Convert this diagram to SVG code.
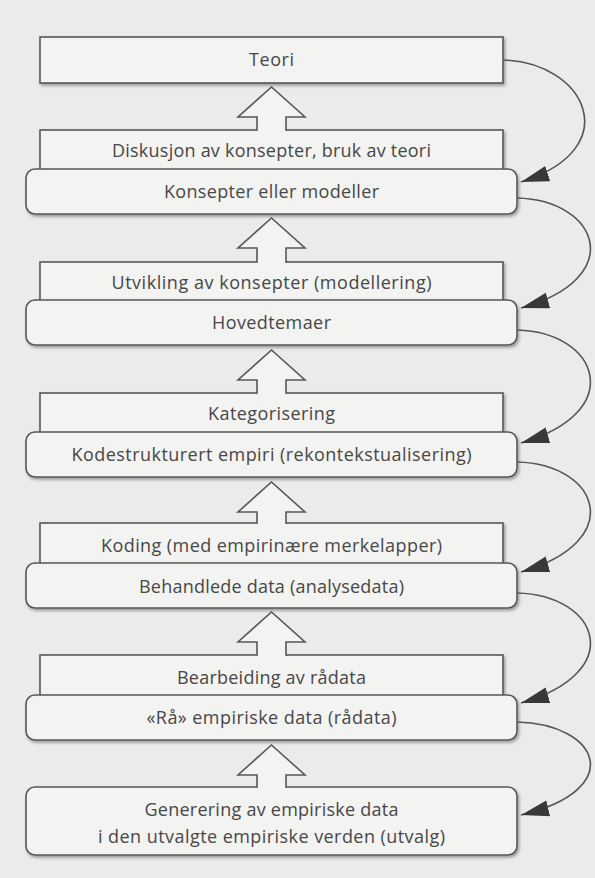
<svg xmlns="http://www.w3.org/2000/svg" width="595" height="878" viewBox="0 0 595 878">
<style>
.bg{fill:#ebebe9}
.box{fill:#f3f3f1;stroke:#575757;stroke-width:1.6;filter:url(#sh)}
.t{font-family:"Open Sans",Lato,"Liberation Sans",sans-serif;font-size:18px;fill:#474747;text-anchor:middle}
.upf{fill:#f3f3f1;stroke:none}
.ups{fill:none;stroke:#575757;stroke-width:1.6;stroke-linejoin:miter}
.cv{fill:none;stroke:#555;stroke-width:1.6;marker-end:url(#ah)}
</style>
<defs>
<filter id="sh" x="-5%" y="-20%" width="110%" height="150%">
<feDropShadow dx="1.5" dy="2" stdDeviation="1.4" flood-color="#000" flood-opacity="0.35"/>
</filter>
<marker id="ah" markerUnits="userSpaceOnUse" markerWidth="30" markerHeight="18" refX="28" refY="8" orient="auto">
<path d="M0,0 L28,8 L0,16 Z" fill="#383838"/>
</marker>
</defs>
<rect class="bg" x="0" y="0" width="595" height="878"/>

<g id="teori"><rect class="box" x="40" y="37" width="463" height="46"/><text class="t" x="271.5" y="66" textLength="45">Teori</text></g>
<g id="diskusjon"><rect class="box" x="40" y="130" width="463" height="45"/><text class="t" x="271.5" y="157" textLength="319">Diskusjon av konsepter, bruk av teori</text></g>
<g id="konsepter"><rect class="box" x="26" y="169" width="491" height="45" rx="9"/><text class="t" x="271.5" y="198" textLength="215">Konsepter eller modeller</text></g>
<g id="utvikling"><rect class="box" x="40" y="262" width="463" height="44"/><text class="t" x="271.5" y="289" textLength="320">Utvikling av konsepter (modellering)</text></g>
<g id="hovedtemaer"><rect class="box" x="26" y="300" width="491" height="45" rx="9"/><text class="t" x="271.5" y="329" textLength="119">Hovedtemaer</text></g>
<g id="kategorisering"><rect class="box" x="40" y="393" width="463" height="45"/><text class="t" x="271.5" y="420" textLength="127">Kategorisering</text></g>
<g id="kodestrukturert"><rect class="box" x="26" y="432" width="491" height="45" rx="9"/><text class="t" x="271.5" y="461" textLength="400">Kodestrukturert empiri (rekontekstualisering)</text></g>
<g id="koding"><rect class="box" x="40" y="523" width="463" height="46"/><text class="t" x="271.5" y="552" textLength="341">Koding (med empirinære merkelapper)</text></g>
<g id="behandlede"><rect class="box" x="26" y="563" width="491" height="45" rx="9"/><text class="t" x="271.5" y="593" textLength="265">Behandlede data (analysedata)</text></g>
<g id="bearbeiding"><rect class="box" x="40" y="655" width="463" height="46"/><text class="t" x="271.5" y="684" textLength="189">Bearbeiding av rådata</text></g>
<g id="raa"><rect class="box" x="26" y="695" width="491" height="45" rx="9"/><text class="t" x="271.5" y="724" textLength="250">«Rå» empiriske data (rådata)</text></g>
<g id="generering"><rect class="box" x="26" y="787" width="491" height="68" rx="9"/><text class="t" x="271.5" y="816" textLength="254">Generering av empiriske data</text><text class="t" x="271.5" y="843" textLength="347">i den utvalgte empiriske verden (utvalg)</text></g>

<g id="connectors">
<g id="up1"><polygon class="upf" points="271.5,87 305,117 286,117 286,131.6 257,131.6 257,117 238,117"/><polyline class="ups" points="257,130.8 257,117 238,117 271.5,87 305,117 286,117 286,130.8"/></g>
<g id="up2"><polygon class="upf" points="271.5,218 305,248 286,248 286,263.6 257,263.6 257,248 238,248"/><polyline class="ups" points="257,262.8 257,248 238,248 271.5,218 305,248 286,248 286,262.8"/></g>
<g id="up3"><polygon class="upf" points="271.5,350 305,380 286,380 286,394.6 257,394.6 257,380 238,380"/><polyline class="ups" points="257,393.8 257,380 238,380 271.5,350 305,380 286,380 286,393.8"/></g>
<g id="up4"><polygon class="upf" points="271.5,482 305,512 286,512 286,524.6 257,524.6 257,512 238,512"/><polyline class="ups" points="257,523.8 257,512 238,512 271.5,482 305,512 286,512 286,523.8"/></g>
<g id="up5"><polygon class="upf" points="271.5,612 305,642 286,642 286,656.6 257,656.6 257,642 238,642"/><polyline class="ups" points="257,655.8 257,642 238,642 271.5,612 305,642 286,642 286,655.8"/></g>
<g id="up6"><polygon class="upf" points="271.5,745 305,775 286,775 286,788.6 257,788.6 257,775 238,775"/><polyline class="ups" points="257,787.8 257,775 238,775 271.5,745 305,775 286,775 286,787.8"/></g>
<path class="cv" d="M503,60 C585,62 628,148 521,182"/>
<path class="cv" d="M517,198 C599,200 628,278 521,308"/>
<path class="cv" d="M517,330 C599,332 628,412 521,443"/>
<path class="cv" d="M517,462 C599,464 628,541 521,572"/>
<path class="cv" d="M517,593 C599,595 628,672 521,703"/>
<path class="cv" d="M517,722 C599,724 628,789 521,815"/>
</g>
</svg>
